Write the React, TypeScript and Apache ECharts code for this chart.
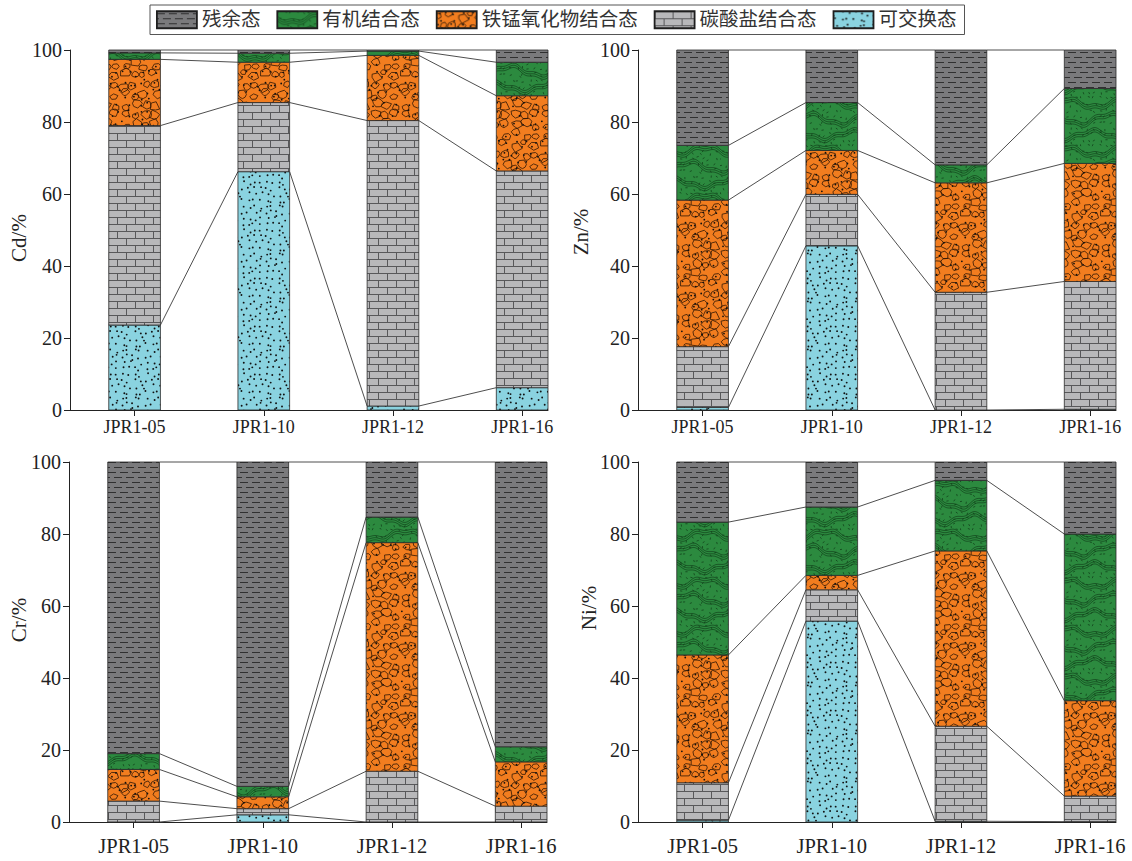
import React, { useEffect, useRef } from 'react';
import * as echarts from 'echarts';

// ---------- data ----------
const samples = ['JPR1-05', 'JPR1-10', 'JPR1-12', 'JPR1-16'];
const sampleX = [1, 2, 3, 4];
// fractions, stacked bottom -> top
const fractionNames = ['可交换态', '碳酸盐结合态', '铁锰氧化物结合态', '有机结合态', '残余态'];
const legendOrder = ['残余态', '有机结合态', '铁锰氧化物结合态', '碳酸盐结合态', '可交换态'];
const elementNames = ['Cd', 'Zn', 'Cr', 'Ni'];

const cdExchangeable = [23.6, 66.2, 1.1, 6.2];
const cdCarbonate = [55.4, 19.2, 79.3, 60.2];
const cdFeMnOxide = [18.4, 11.2, 18.1, 20.9];
const cdOrganic = [1.8, 2.5, 1.2, 9.3];
const cdResidual = [0.8, 0.9, 0.3, 3.4];

const znExchangeable = [0.7, 45.6, 0, 0.2];
const znCarbonate = [16.9, 14.3, 32.7, 35.5];
const znFeMnOxide = [40.7, 12.2, 30.4, 32.8];
const znOrganic = [15.2, 13.3, 5.0, 20.8];
const znResidual = [26.5, 14.6, 31.9, 10.7];

const crExchangeable = [0, 2.0, 0, 0];
const crCarbonate = [5.8, 1.7, 14.1, 4.4];
const crFeMnOxide = [8.8, 3.3, 63.5, 12.3];
const crOrganic = [4.4, 2.9, 7.1, 4.2];
const crResidual = [81.0, 90.1, 15.3, 79.1];

const niExchangeable = [0.5, 55.8, 0.2, 0.1];
const niCarbonate = [10.4, 8.7, 26.4, 7.1];
const niFeMnOxide = [35.5, 4.0, 48.7, 26.5];
const niOrganic = [36.9, 19.0, 19.6, 46.3];
const niResidual = [16.7, 12.5, 5.1, 20.0];

const yTicks = [0, 20, 40, 60, 80, 100];

const panelData = [
  [cdExchangeable, cdCarbonate, cdFeMnOxide, cdOrganic, cdResidual],
  [znExchangeable, znCarbonate, znFeMnOxide, znOrganic, znResidual],
  [crExchangeable, crCarbonate, crFeMnOxide, crOrganic, crResidual],
  [niExchangeable, niCarbonate, niFeMnOxide, niOrganic, niResidual],
];

// ---------- layout ----------
const GRID_W = 478;
const GRID_H = 360;
const panelLayout = [
  { left: 70, top: 50, labelMargin: 8, labelSize: 18, nameX: 19, nameY: 238 },
  { left: 638, top: 50, labelMargin: 8, labelSize: 18, nameX: 581, nameY: 232 },
  { left: 69, top: 462, labelMargin: 14, labelSize: 20.5, nameX: 19, nameY: 620 },
  { left: 638, top: 462, labelMargin: 14, labelSize: 20.5, nameX: 589, nameY: 608 },
];
const X_MIN = 0.5;
const X_MAX = 4.2;
const BAR_UNITS = 0.4;
const HALF = BAR_UNITS / 2;
const SERIF = 'Liberation Serif, Noto Sans CJK SC, serif';

// ---------- patterns ----------
function prng(seed: number) {
  let s = seed;
  return () => {
    s = (s * 16807) % 2147483647;
    return (s - 1) / 2147483646;
  };
}

function makePattern(w: number, h: number, draw: (ctx: CanvasRenderingContext2D, w: number, h: number) => void) {
  const c = document.createElement('canvas');
  c.width = w;
  c.height = h;
  const ctx = c.getContext('2d') as CanvasRenderingContext2D;
  draw(ctx, w, h);
  return { image: c, repeat: 'repeat', imageWidth: w, imageHeight: h } as any;
}

function wrapped(w: number, h: number, fn: (dx: number, dy: number) => void) {
  for (const dx of [-w, 0, w]) for (const dy of [-h, 0, h]) fn(dx, dy);
}

function buildPatterns() {
  const residual = makePattern(24, 10, (ctx, w, h) => {
    ctx.fillStyle = '#7a7a7c';
    ctx.fillRect(0, 0, w, h);
    ctx.strokeStyle = '#303030';
    ctx.lineWidth = 1;
    const segs = [
      [0, 2.5, 8], [12, 2.5, 20], [6, 7.5, 14], [18, 7.5, 26], [-6, 7.5, 2],
    ];
    segs.forEach(([x1, y, x2]) => {
      ctx.beginPath();
      ctx.moveTo(x1, y);
      ctx.lineTo(x2, y);
      ctx.stroke();
    });
  });

  const carbonate = makePattern(36, 14, (ctx, w, h) => {
    ctx.fillStyle = '#b8b8ba';
    ctx.fillRect(0, 0, w, h);
    ctx.strokeStyle = '#58585a';
    ctx.lineWidth = 1;
    ctx.beginPath();
    ctx.moveTo(0, 0.5); ctx.lineTo(w, 0.5);
    ctx.moveTo(0, 7.5); ctx.lineTo(w, 7.5);
    ctx.moveTo(0.5, 0); ctx.lineTo(0.5, 7.5);
    ctx.moveTo(18.5, 0); ctx.lineTo(18.5, 7.5);
    ctx.moveTo(9.5, 7.5); ctx.lineTo(9.5, 14);
    ctx.moveTo(27.5, 7.5); ctx.lineTo(27.5, 14);
    ctx.stroke();
  });

  const exchangeable = makePattern(48, 48, (ctx, w, h) => {
    ctx.fillStyle = '#8ad3e0';
    ctx.fillRect(0, 0, w, h);
    ctx.fillStyle = '#111';
    const r = prng(7);
    for (let i = 0; i < 8; i++) {
      for (let j = 0; j < 8; j++) {
        const x = i * 6 + r() * 5;
        const y = j * 6 + r() * 5;
        wrapped(w, h, (dx, dy) => {
          ctx.beginPath();
          ctx.arc(x + dx, y + dy, 0.95, 0, Math.PI * 2);
          ctx.fill();
        });
      }
    }
  });

  const feMn = makePattern(70, 70, (ctx, w, h) => {
    ctx.fillStyle = '#f27d1f';
    ctx.fillRect(0, 0, w, h);
    const r = prng(11);
    ctx.strokeStyle = '#2e1605';
    ctx.lineWidth = 0.8;
    for (let i = 0; i < 7; i++) {
      for (let j = 0; j < 7; j++) {
        const cx = i * 10 + 2 + r() * 6;
        const cy = j * 10 + 2 + r() * 6;
        const n = 5 + Math.floor(r() * 3);
        const rad = 3.4 + r() * 2.4;
        const rot = r() * Math.PI;
        const pts: number[][] = [];
        for (let k = 0; k < n; k++) {
          const a = rot + ((k + r() * 0.5) / n) * Math.PI * 2;
          const rr = rad * (0.75 + r() * 0.4);
          pts.push([Math.cos(a) * rr, Math.sin(a) * rr * 0.85]);
        }
        wrapped(w, h, (dx, dy) => {
          ctx.beginPath();
          pts.forEach(([px, py], k) => {
            if (k === 0) ctx.moveTo(cx + dx + px, cy + dy + py);
            else ctx.lineTo(cx + dx + px, cy + dy + py);
          });
          ctx.closePath();
          ctx.stroke();
        });
      }
    }
    ctx.fillStyle = '#111';
    for (let i = 0; i < 11; i++) {
      for (let j = 0; j < 11; j++) {
        if (r() < 0.35) continue;
        const x = i * (70 / 11) + r() * 5;
        const y = j * (70 / 11) + r() * 5;
        wrapped(w, h, (dx, dy) => {
          ctx.beginPath();
          ctx.arc(x + dx, y + dy, 0.9, 0, Math.PI * 2);
          ctx.fill();
        });
      }
    }
  });

  const organic = makePattern(60, 48, (ctx, w, h) => {
    ctx.fillStyle = '#2c8a3f';
    ctx.fillRect(0, 0, w, h);
    ctx.strokeStyle = '#0e3816';
    ctx.lineWidth = 0.6;
    const bands = [
      { y0: 5, amp: 4, ph: 0 },
      { y0: 21, amp: 5, ph: 1.6 },
      { y0: 37, amp: 4, ph: 3.3 },
    ];
    bands.forEach(({ y0, amp, ph }) => {
      for (let k = 0; k < 3; k++) {
        [-h, 0, h].forEach((dy) => {
          ctx.beginPath();
          for (let x = 0; x <= w; x += 1) {
            const y = y0 + k * 2.2 + amp * Math.sin((2 * Math.PI * x) / w + ph) + 1.5 * Math.sin((6 * Math.PI * x) / w);
            if (x === 0) ctx.moveTo(x, y + dy);
            else ctx.lineTo(x, y + dy);
          }
          ctx.stroke();
        });
      }
    });
    const r = prng(23);
    ctx.lineWidth = 0.7;
    for (let i = 0; i < 10; i++) {
      for (let j = 0; j < 8; j++) {
        const x = i * 6 + r() * 4;
        const y = j * 6 + r() * 4;
        const a = r() * Math.PI;
        ctx.beginPath();
        ctx.moveTo(x, y);
        ctx.lineTo(x + Math.cos(a) * 2.2, y + Math.sin(a) * 2.2);
        ctx.stroke();
      }
    }
  });

  // bottom -> top order, matching fractionNames
  return [exchangeable, carbonate, feMn, organic, residual];
}

function buildOption() {
  const patterns = buildPatterns();
  const grids: any[] = [];
  const xAxes: any[] = [];
  const yAxes: any[] = [];
  const series: any[] = [];
  const graphics: any[] = [];

  panelData.forEach((fractions, p) => {
    const lay = panelLayout[p];
    grids.push({ left: lay.left, top: lay.top, width: GRID_W, height: GRID_H, containLabel: false });
    xAxes.push({
      gridIndex: p,
      type: 'value',
      min: X_MIN,
      max: X_MAX,
      splitLine: { show: false },
      axisLine: { show: true, lineStyle: { color: '#222', width: 1 } },
      axisTick: { show: true, customValues: sampleX, length: 6, lineStyle: { color: '#222' } },
      axisLabel: {
        customValues: sampleX,
        formatter: (v: number) => samples[Math.round(v) - 1] ?? '',
        fontFamily: SERIF,
        fontSize: lay.labelSize,
        color: '#222',
        margin: lay.labelMargin,
      },
    });
    yAxes.push({
      gridIndex: p,
      type: 'value',
      min: yTicks[0],
      max: yTicks[yTicks.length - 1],
      interval: yTicks[1] - yTicks[0],
      splitLine: { show: false },
      axisLine: { show: true, lineStyle: { color: '#222', width: 1 } },
      axisTick: { show: true, length: 6, lineStyle: { color: '#222' } },
      axisLabel: { fontFamily: SERIF, fontSize: 20, color: '#222', margin: 8 },
    });
    graphics.push({
      type: 'text',
      x: lay.nameX,
      y: lay.nameY,
      rotation: Math.PI / 2,
      silent: true,
      style: {
        text: `${elementNames[p]}/%`,
        fontFamily: SERIF,
        fontSize: 21,
        fill: '#222',
        align: 'center',
        verticalAlign: 'middle',
      },
    });

    // cumulative tops of each fraction
    const tops = fractions.map((_, k) =>
      samples.map((_, i) => fractions.slice(0, k + 1).reduce((s, arr) => s + arr[i], 0)),
    );
    fractions.forEach((vals, k) => {
      series.push({
        type: 'custom',
        name: fractionNames[k],
        xAxisIndex: p,
        yAxisIndex: p,
        silent: true,
        itemStyle: { color: patterns[k] },
        encode: { x: 0, y: [1, 2] },
        data: vals.map((v, i) => [sampleX[i], tops[k][i] - v, tops[k][i]]),
        renderItem: (_params: any, api: any) => {
          const x = api.value(0);
          const lo = api.value(1);
          const hi = api.value(2);
          const a = api.coord([x - HALF, hi]);
          const b = api.coord([x + HALF, lo]);
          return {
            type: 'rect',
            shape: { x: a[0], y: a[1], width: b[0] - a[0], height: b[1] - a[1] },
            style: { fill: patterns[k], stroke: '#2a2a2a', lineWidth: 0.8 },
          };
        },
        z: 2,
      });
    });

    // connector lines between the tops of each fraction in neighbouring bars
    const connectors: number[][] = [];
    tops.forEach((levels) => {
      for (let i = 0; i < samples.length - 1; i++) {
        connectors.push([sampleX[i], levels[i], sampleX[i + 1], levels[i + 1]]);
      }
    });
    series.push({
      type: 'custom',
      xAxisIndex: p,
      yAxisIndex: p,
      silent: true,
      encode: { x: [0, 2], y: [1, 3] },
      data: connectors,
      renderItem: (_params: any, api: any) => {
        const p1 = api.coord([api.value(0) + HALF, api.value(1)]);
        const p2 = api.coord([api.value(2) - HALF, api.value(3)]);
        return {
          type: 'line',
          shape: { x1: p1[0], y1: p1[1], x2: p2[0], y2: p2[1] },
          style: { stroke: '#3a3a3a', lineWidth: 0.9 },
        };
      },
      z: 1,
    });
  });

  return {
    animation: false,
    backgroundColor: '#ffffff',
    legend: {
      data: legendOrder,
      left: 150,
      top: 5,
      icon: 'rect',
      itemWidth: 40,
      itemHeight: 17,
      itemGap: 16,
      padding: [5, 8, 5, 6],
      borderColor: '#555',
      borderWidth: 1,
      selectedMode: false,
      itemStyle: { borderColor: '#1e1e1e', borderWidth: 1.8 },
      textStyle: { fontFamily: SERIF, fontSize: 19.5, color: '#333' },
    },
    grid: grids,
    xAxis: xAxes,
    yAxis: yAxes,
    graphic: graphics,
    series,
  };
}

export default function App() {
  const ref = useRef<HTMLDivElement>(null);
  useEffect(() => {
    if (!ref.current) return;
    const chart = echarts.init(ref.current, undefined, { renderer: 'svg' });
    chart.setOption(buildOption() as any);
    return () => chart.dispose();
  }, []);
  return (
    <div
      ref={ref}
      style={{ position: 'absolute', left: 0, top: 0, width: 1132, height: 861, background: '#fff' }}
    />
  );
}
